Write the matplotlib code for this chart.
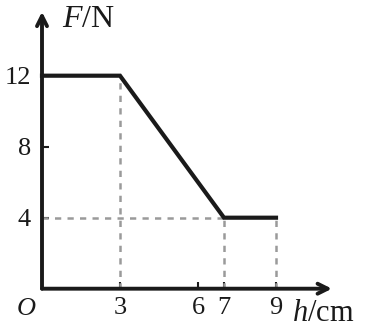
import matplotlib
matplotlib.use("Agg")
import matplotlib.pyplot as plt

# Data
h_vals = [0, 3, 7, 9]
F_vals = [12, 12, 4, 4]
x_ticks = [3, 6, 7, 9]
x_tick_labels = ["3", "6", "7", "9"]
y_ticks = [4, 8, 12]
y_tick_labels = ["4", "8", "12"]

plt.rcParams['font.family'] = ['Liberation Serif', 'DejaVu Serif']
plt.rcParams['mathtext.fontset'] = 'custom'
plt.rcParams['mathtext.it'] = 'Liberation Serif:italic'
plt.rcParams['mathtext.rm'] = 'Liberation Serif'

W, H = 365, 329
fig = plt.figure(figsize=(W/100, H/100), dpi=100)
x0_px, y0_px = 42, 288.7
ppu_x, ppu_y = 26.0, 17.75
xmax, ymax = 11.2, 15.6
ax = fig.add_axes([x0_px/W, (H - y0_px)/H, xmax*ppu_x/W, ymax*ppu_y/H])
ax.set_xlim(0, xmax)
ax.set_ylim(0, ymax)
for s in ax.spines.values():
    s.set_visible(False)

ink = '#1a1a1a'
grey = '#9a9a9a'

# axes with arrows
ax.annotate('', xy=(11.15, 0), xytext=(0, 0),
            arrowprops=dict(arrowstyle='->', lw=2.8, color=ink, mutation_scale=18,
                            shrinkA=0, shrinkB=0), annotation_clip=False)
ax.annotate('', xy=(0, 15.6), xytext=(0, 0),
            arrowprops=dict(arrowstyle='->', lw=2.8, color=ink, mutation_scale=18,
                            shrinkA=0, shrinkB=0), annotation_clip=False)

# dashed guides
dash = dict(color=grey, lw=1.8, linestyle=(0, (2.5, 2.5)))
ax.plot([h_vals[1], h_vals[1]], [0, F_vals[1]], **dash)
ax.plot([0, h_vals[2]], [F_vals[2], F_vals[2]], **dash)
ax.plot([h_vals[2], h_vals[2]], [0, F_vals[2]], **dash)
ax.plot([h_vals[3], h_vals[3]], [0, F_vals[3]], **dash)

# main line
ax.plot(h_vals, F_vals, color=ink, lw=3.0, solid_joinstyle='miter', clip_on=False)

# ticks
ax.set_xticks(x_ticks)
ax.set_xticklabels(x_tick_labels)
ax.set_yticks(y_ticks)
ax.set_yticklabels(y_tick_labels)
ax.tick_params(axis='both', direction='in', length=5, width=1.5, color=ink,
               labelsize=19, labelcolor=ink)
ax.tick_params(axis='x', pad=6)
ax.tick_params(axis='y', pad=8)

ax.text(-0.6, -0.55, 'O', fontsize=19, style='italic', ha='center', va='top', color=ink)
ax.text(0.77, 14.74, '$F$/N', fontsize=23, ha='left', va='baseline', color=ink)
ax.text(9.62, -1.8, '$h$/cm', fontsize=22, ha='left', va='baseline', color=ink)

fig.savefig('out.png', dpi=100)
